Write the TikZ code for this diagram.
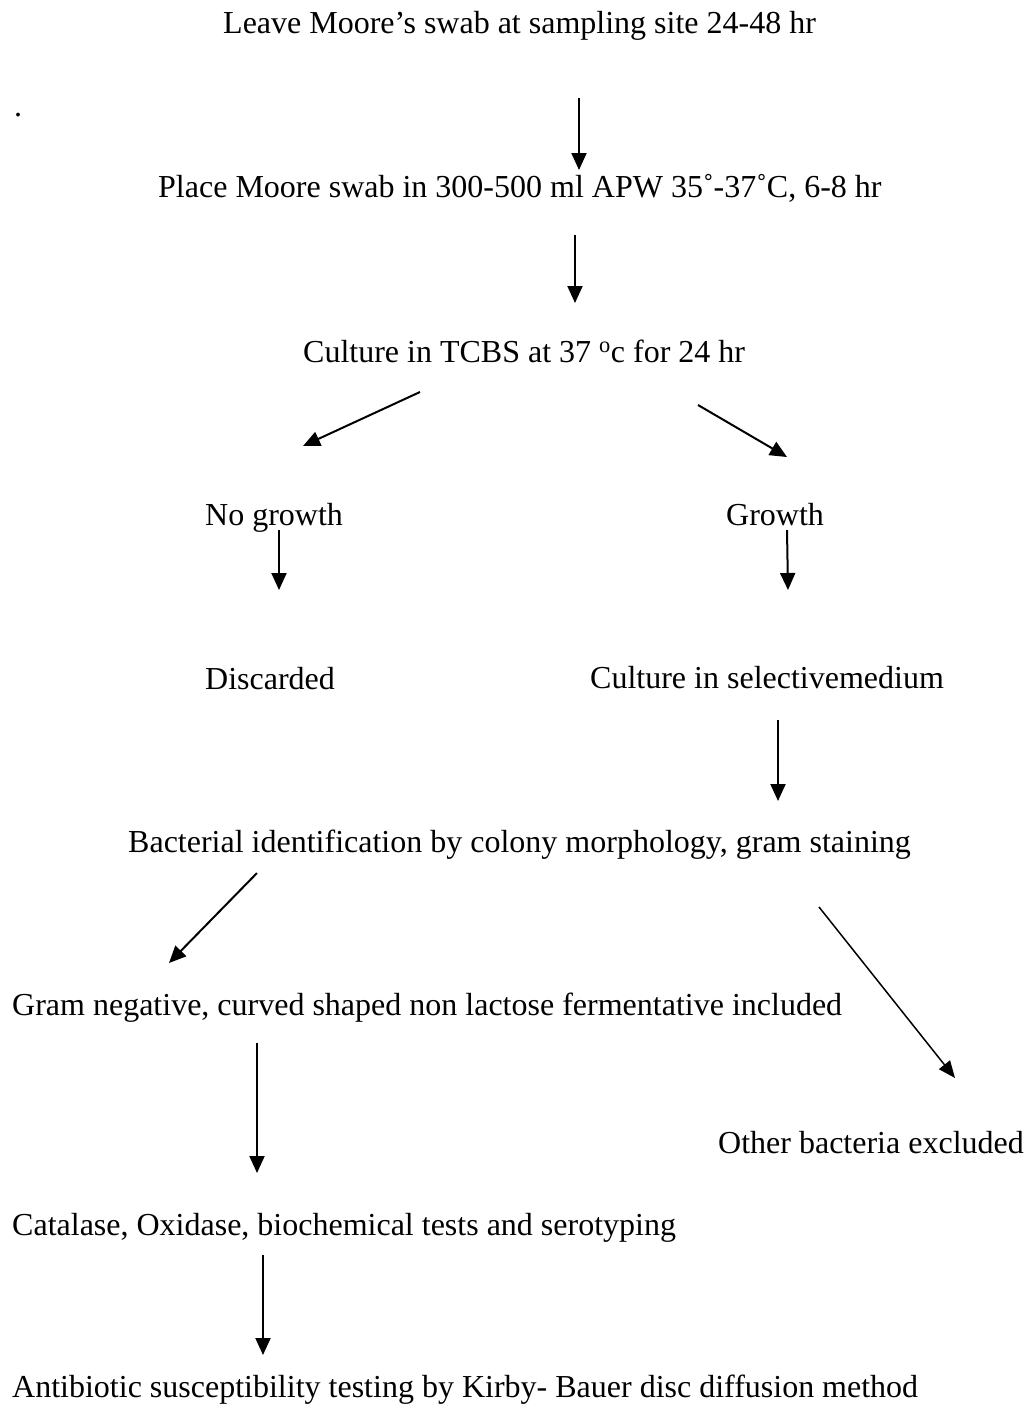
\documentclass[tikz,border=0pt]{standalone}
\usepackage{fontspec}
\setmainfont{Liberation Serif}
\usetikzlibrary{arrows.meta}
\begin{document}
\begin{tikzpicture}[x=1pt,y=-1pt,
  lbl/.style={anchor=base west,inner sep=0pt,font=\fontsize{32}{38}\selectfont},
  arr/.style={line width=2pt,-{Triangle[length=17pt,width=15pt]}},
  arrthin/.style={line width=1.5pt,-{Triangle[length=17pt,width=14pt]}}]
\useasboundingbox (0,0) rectangle (1036,1406);
% texts
\node[lbl] (t1) at (223,33) {Leave Moore’s swab at sampling site 24-48 hr};
\node[lbl] (dot) at (14,116) {.};
\node[lbl] (t2) at (158,197) {Place Moore swab in 300-500 ml APW 35˚-37˚C, 6-8 hr};
\node[lbl] (t3) at (303,362) {Culture in TCBS at 37 \textsuperscript{o}c for 24 hr};
\node[lbl] (ng) at (205,525) {No growth};
\node[lbl] (gr) at (726,525) {Growth};
\node[lbl] (dis) at (205,689) {Discarded};
\node[lbl] (sel) at (590,688) {Culture in selectivemedium};
\node[lbl] (bac) at (128,852) {Bacterial identification by colony morphology, gram staining};
\node[lbl] (gn) at (12,1015) {Gram negative, curved shaped non lactose fermentative included};
\node[lbl] (oth) at (718,1153) {Other bacteria excluded};
\node[lbl] (cat) at (12,1235) {Catalase, Oxidase, biochemical tests and serotyping};
\node[lbl] (ab) at (12,1397) {Antibiotic susceptibility testing by Kirby- Bauer disc diffusion method};
% arrow end points
\coordinate (a1s) at (579,98);   \coordinate (a1e) at (579,170);
\coordinate (a2s) at (575,235);  \coordinate (a2e) at (575,303);
\coordinate (a3s) at (420,392);  \coordinate (a3e) at (303,446);
\coordinate (a4s) at (698,405);  \coordinate (a4e) at (787,457);
\coordinate (a5s) at (279,530);  \coordinate (a5e) at (279,590);
\coordinate (a6s) at (787,530);  \coordinate (a6e) at (788,590);
\coordinate (a7s) at (778,720);  \coordinate (a7e) at (778,801);
\coordinate (a8s) at (257,873);  \coordinate (a8e) at (169,963);
\coordinate (a9s) at (819,907);  \coordinate (a9e) at (955,1078);
\coordinate (a10s) at (257,1043); \coordinate (a10e) at (257,1173);
\coordinate (a11s) at (263,1255); \coordinate (a11e) at (263,1355);
% arrows
\draw[arr] (a1s) -- (a1e);
\draw[arr] (a2s) -- (a2e);
\draw[arr] (a3s) -- (a3e);
\draw[arr] (a4s) -- (a4e);
\draw[arr] (a5s) -- (a5e);
\draw[arr] (a6s) -- (a6e);
\draw[arr] (a7s) -- (a7e);
\draw[arr] (a8s) -- (a8e);
\draw[arrthin] (a9s) -- (a9e);
\draw[arr] (a10s) -- (a10e);
\draw[arr] (a11s) -- (a11e);
\end{tikzpicture}
\end{document}
